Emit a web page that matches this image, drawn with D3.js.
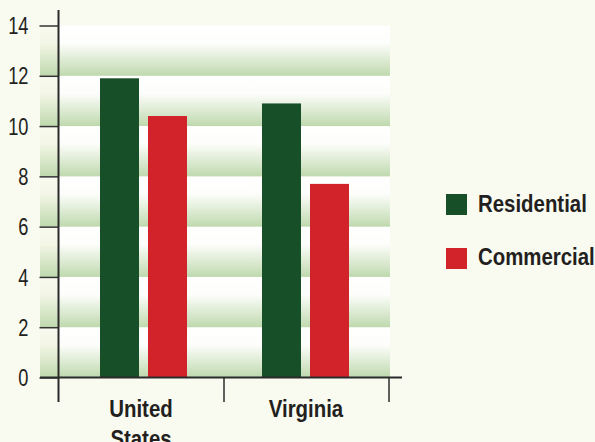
<!DOCTYPE html>
<html>
<head>
<meta charset="utf-8">
<script src="https://cdn.jsdelivr.net/npm/d3@7"></script>
<style>
  html, body { margin: 0; padding: 0; background: #f9faf0; }
  svg { display: block; }
  text { font-family: "Liberation Sans", Arial, sans-serif; fill: #231f20; }
</style>
</head>
<body>
<svg id="chart" width="595" height="442"></svg>
<script>
const categories = [["United", "States"], ["Virginia"]];
const categoryKeys = ["United States", "Virginia"];
const seriesNames = ["Residential", "Commercial"];
const residential = [11.9, 10.9];
const commercial = [10.4, 7.7];
const yTicks = [0, 2, 4, 6, 8, 10, 12, 14];
const colors = ["#174f28", "#d2232a"];

const svg = d3.select("#chart");
const defs = svg.append("defs");

// condense text horizontally (reference uses a condensed face)
function condense(sel, factor) {
  sel.each(function () {
    const w = this.getComputedTextLength();
    d3.select(this).attr("textLength", w * factor).attr("lengthAdjust", "spacingAndGlyphs");
  });
}

const y = d3.scaleLinear().domain([0, 14]).range([377.5, 25.5]);
const xAxisScale = d3.scaleBand().domain(categoryKeys).range([59, 389]).padding(0);
const x0 = d3.scaleBand().domain(categoryKeys).range([62.5, 386.5]).padding(0);
const x1 = d3.scaleBand().domain(seriesNames).range([37.5, 124.5]).paddingInner(0.1875).paddingOuter(0);

// gradients
const g1 = defs.append("linearGradient").attr("id", "bandGrad").attr("x1", 0).attr("y1", 0).attr("x2", 0).attr("y2", 1);
g1.append("stop").attr("offset", "0%").attr("stop-color", "#ffffff");
g1.append("stop").attr("offset", "35%").attr("stop-color", "#fdfefb");
g1.append("stop").attr("offset", "100%").attr("stop-color", "#bfd9ae");
const g2 = defs.append("linearGradient").attr("id", "bandGradL").attr("x1", 0).attr("y1", 0).attr("x2", 0).attr("y2", 1);
g2.append("stop").attr("offset", "0%").attr("stop-color", "#f9faf0");
g2.append("stop").attr("offset", "35%").attr("stop-color", "#f3f6e6");
g2.append("stop").attr("offset", "100%").attr("stop-color", "#bfd9ae");

const bands = d3.range(0, 14, 2);
svg.append("g").selectAll("rect").data(bands).join("rect")
  .attr("x", 59).attr("width", 390 - 59)
  .attr("y", d => y(d + 2)).attr("height", d => y(d) - y(d + 2))
  .attr("fill", "url(#bandGrad)");
svg.append("g").selectAll("rect").data(bands).join("rect")
  .attr("x", 40).attr("width", 19)
  .attr("y", d => y(d + 2)).attr("height", d => y(d) - y(d + 2))
  .attr("fill", "url(#bandGradL)");

// bars
const rows = categoryKeys.map((c, i) => ({ cat: c, vals: [residential[i], commercial[i]] }));
const gb = svg.append("g");
rows.forEach(r => {
  r.vals.forEach((v, j) => {
    gb.append("rect")
      .attr("x", x0(r.cat) + x1(seriesNames[j]))
      .attr("width", x1.bandwidth())
      .attr("y", y(v))
      .attr("height", y(0) - y(v))
      .attr("fill", colors[j]);
  });
});

// y axis
const yAxis = d3.axisLeft(y).tickValues(yTicks).tickSize(19).tickPadding(11).tickFormat(d3.format("d"));
const ya = svg.append("g").attr("transform", "translate(58.5,0)").call(yAxis);
ya.select(".domain").remove();
ya.selectAll(".tick line").attr("stroke", "#333").attr("stroke-width", 1.5);
ya.selectAll(".tick text").attr("font-size", 24).attr("fill", "#231f20")
  .attr("font-family", "Liberation Sans, sans-serif").attr("dy", "0.34em");
condense(ya.selectAll(".tick text"), 0.76);

// axis lines
svg.append("line").attr("x1", 58.5).attr("x2", 58.5).attr("y1", 10).attr("y2", 402)
  .attr("stroke", "#2b2b2b").attr("stroke-width", 2);
svg.append("line").attr("x1", 40).attr("x2", 402).attr("y1", y(0)).attr("y2", y(0))
  .attr("stroke", "#2b2b2b").attr("stroke-width", 2);
const xTickPos = categoryKeys.map(c => xAxisScale(c) + xAxisScale.bandwidth());
svg.append("g").selectAll("line").data(xTickPos).join("line")
  .attr("x1", d => d).attr("x2", d => d).attr("y1", y(0)).attr("y2", 402)
  .attr("stroke", "#2b2b2b").attr("stroke-width", 1.5);

// category labels
categoryKeys.forEach((c, i) => {
  const cx = xAxisScale(c) + xAxisScale.bandwidth() / 2 - 0.5;
  categories[i].forEach((line, k) => {
    const t = svg.append("text").attr("text-anchor", "middle")
      .attr("font-size", 24).attr("font-weight", "bold")
      .attr("x", cx).attr("y", 416.5 + k * 30).text(line);
    condense(t, 0.85);
  });
});

// legend
const lg = svg.append("g");
seriesNames.forEach((s, j) => {
  lg.append("rect").attr("x", 446).attr("y", 194 + j * 54).attr("width", 21).attr("height", 21).attr("fill", colors[j]);
  const t = lg.append("text").attr("x", 478).attr("y", 212 + j * 53).attr("font-size", 24).attr("font-weight", "bold").text(s);
  condense(t, 0.85);
});
</script>
</body>
</html>
